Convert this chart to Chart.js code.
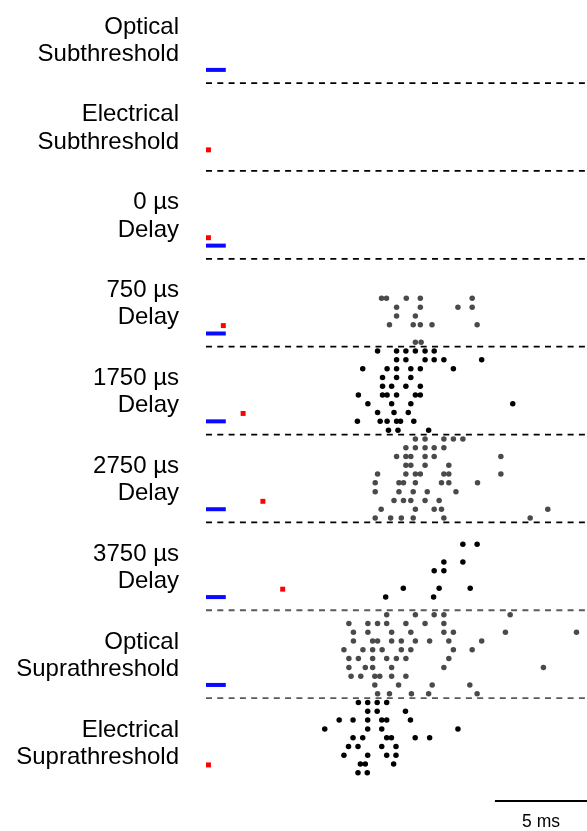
<!DOCTYPE html>
<html>
<head>
<meta charset="utf-8">
<script src="https://cdn.jsdelivr.net/npm/chart.js@4/dist/chart.umd.min.js"></script>
<style>
body { margin: 0; background: #fff; }
canvas { display: block; }
</style>
</head>
<body>
<canvas id="raster" width="587" height="831"></canvas>
<script>
// panel labels, top to bottom
const panelLabels = [
    ["Optical", "Subthreshold"],
    ["Electrical", "Subthreshold"],
    ["0 \u00b5s", "Delay"],
    ["750 \u00b5s", "Delay"],
    ["1750 \u00b5s", "Delay"],
    ["2750 \u00b5s", "Delay"],
    ["3750 \u00b5s", "Delay"],
    ["Optical", "Suprathreshold"],
    ["Electrical", "Suprathreshold"]
]
const opticalStim = [true, false, true, true, true, true, true, true, false]
const opticalDuration = 1 // ms
const electricalDelay = [null, 0, 0, 0.75, 1.75, 2.75, 3.75, null, 0] // ms
const spikeColors = ['#000', '#000', '#000', '#4a4a4a', '#000', '#4a4a4a', '#000', '#4a4a4a', '#000']
const separatorColors = ['#000', '#000', '#000', '#000', '#000', '#000', '#5a5a5a', '#5a5a5a']

// spike times (ms) per trial, 10 trials per condition
const spikesOptSub = [[], [], [], [], [], [], [], [], [], []]
const spikesElecSub = [[], [], [], [], [], [], [], [], [], []]
const spikes0 = [[], [], [], [], [], [], [], [], [], []]
const spikes750 = [
    [], [], [], [],
    [8.87, 9.12, 10.12, 10.83, 13.45],
    [9.63, 10.83, 12.73, 13.45],
    [9.63, 10.58],
    [9.27, 10.47, 10.83, 11.42, 13.7],
    [],
    [10.58, 10.87]
]
const spikes1750 = [
    [8.67, 9.63, 10.1, 10.58, 11.07, 11.53],
    [9.63, 10.1, 11.07, 11.53, 12.02, 13.93],
    [7.92, 9.15, 9.63, 10.35, 10.83, 12.5],
    [8.92, 9.63, 10.35],
    [8.92, 9.38, 10.1, 10.83],
    [7.7, 8.92, 9.15, 9.63, 10.58, 10.83],
    [8.18, 9.38, 10.35, 15.5],
    [8.67, 9.5, 10.22],
    [7.65, 8.8, 9.15, 9.63, 9.83, 10.5],
    [9.22, 9.7, 11.25]
]
const spikes2750 = [
    [10.58, 11.07, 12.02, 12.5, 12.98],
    [10.1, 10.58, 11.07, 11.53, 12.02],
    [9.63, 10.1, 10.35, 11.07, 11.53, 14.9],
    [10.1, 10.35, 11.07, 12.27],
    [8.67, 10.1, 10.58, 10.83, 12.02, 12.27, 14.9],
    [8.55, 9.75, 9.98, 10.58, 11.9, 12.27, 13.72],
    [8.55, 9.75, 10.47, 11.18, 12.63],
    [9.5, 9.98, 10.35, 11.07, 11.78],
    [8.85, 10.58, 11.53, 11.9, 17.27],
    [8.55, 9.33, 9.87, 10.47, 12.02, 16.38]
]
const spikes3750 = [
    [], [],
    [12.98, 13.7],
    [],
    [12.02, 12.98],
    [11.53, 12.02],
    [],
    [9.97, 11.78, 13.35],
    [9.08, 11.5],
    []
]
const spikesOptSupra = [
    [9.13, 10.58, 11.53, 12.02, 15.37],
    [7.22, 8.18, 8.67, 9.13, 10.1, 11.07, 12.02],
    [7.45, 8.18, 9.38, 10.35, 12.02, 12.5, 15.13, 18.72],
    [7.45, 8.42, 8.67, 9.38, 9.87, 10.58, 11.3, 12.27, 13.93],
    [6.97, 7.93, 8.42, 8.9, 9.87, 10.35, 12.5, 13.45],
    [7.22, 7.7, 8.42, 9.13, 9.62, 10.1, 12.27],
    [7.22, 8.05, 8.42, 9.38, 12.02, 17.05],
    [7.33, 7.82, 8.53, 8.78, 9.38, 10.1],
    [8.53, 9.73, 11.43, 13.33],
    [8.67, 9.27, 10.38, 11.25, 13.7]
]
const spikesElecSupra = [
    [7.7, 8.17, 8.65, 9.13],
    [8.17, 8.65, 10.08],
    [6.73, 7.43, 8.17, 8.88, 9.13, 10.33],
    [6.0, 8.17, 8.88, 12.73],
    [7.43, 7.92, 9.13, 9.37, 10.57, 11.3],
    [7.2, 7.68, 8.88, 9.6],
    [6.97, 8.17, 9.13, 9.6],
    [7.8, 8.05, 9.48],
    [7.68, 8.15],
    []
]
const allSpikes = [spikesOptSub, spikesElecSub, spikes0, spikes750, spikes1750,
    spikes2750, spikes3750, spikesOptSupra, spikesElecSupra]

const scaleBarMs = 5
const scaleBarLabel = "5 ms"

const datasets = []

// separators between panels
separatorColors.forEach((c, i) => {
    const y = (i + 1) * 10
    datasets.push({
        showLine: true,
        data: [{ x: 0, y: y }, { x: 19.3, y: y }],
        borderColor: c,
        borderWidth: 1.8,
        borderDash: [6, 5.3],
        pointRadius: 0
    })
})

allSpikes.forEach((trials, k) => {
    const pts = []
    trials.forEach((times, i) => {
        for (const t of times) pts.push({ x: t, y: k * 10 + i + 0.5 })
    })
    datasets.push({
        data: pts,
        pointRadius: 2.75,
        pointBackgroundColor: spikeColors[k],
        pointBorderWidth: 0
    })
    if (opticalStim[k]) {
        datasets.push({
            showLine: true,
            data: [{ x: 0, y: k * 10 + 8.5 }, { x: opticalDuration, y: k * 10 + 8.5 }],
            borderColor: '#0a0aff',
            borderWidth: 4,
            borderCapStyle: 'butt',
            pointRadius: 0
        })
    }
    if (electricalDelay[k] !== null) {
        datasets.push({
            data: [{ x: electricalDelay[k] + 0.125, y: k * 10 + 7.6 }],
            pointStyle: 'rect',
            pointRadius: 3.5,
            pointBackgroundColor: '#ff0000',
            pointBorderWidth: 0
        })
    }
})

const labelsPlugin = {
    id: 'labels',
    afterDraw(chart) {
        const ctx = chart.ctx
        const xs = chart.scales.x
        const ys = chart.scales.y
        ctx.save()
        ctx.fillStyle = '#000'
        ctx.font = '24px "Liberation Sans", Arial, sans-serif'
        ctx.textAlign = 'right'
        ctx.textBaseline = 'alphabetic'
        panelLabels.forEach((lines, k) => {
            ctx.fillText(lines[0], 179, ys.getPixelForValue(k * 10 + 4.37))
            ctx.fillText(lines[1], 179, ys.getPixelForValue(k * 10 + 7.47))
        })
        // scale bar
        const x1 = xs.getPixelForValue(14.6)
        const x2 = xs.getPixelForValue(14.6 + scaleBarMs)
        ctx.strokeStyle = '#000'
        ctx.lineWidth = 2
        ctx.beginPath()
        ctx.moveTo(x1, 801)
        ctx.lineTo(x2, 801)
        ctx.stroke()
        ctx.font = '17.5px "Liberation Sans", Arial, sans-serif'
        ctx.textAlign = 'center'
        ctx.fillText(scaleBarLabel, 541, 827)
        ctx.restore()
    }
}

new Chart(document.getElementById('raster').getContext('2d'), {
    type: 'scatter',
    data: { datasets: datasets },
    options: {
        responsive: false,
        animation: false,
        layout: { padding: { left: 206, right: 0, top: 0, bottom: 45 } },
        plugins: { legend: { display: false }, tooltip: { enabled: false } },
        scales: {
            x: { type: 'linear', min: 0, max: 19.05, display: false },
            y: { type: 'linear', min: 1.0, max: 90, reverse: true, display: false }
        },
        elements: { line: { tension: 0 } },
        clip: false
    },
    plugins: [labelsPlugin]
})
</script>
</body>
</html>
